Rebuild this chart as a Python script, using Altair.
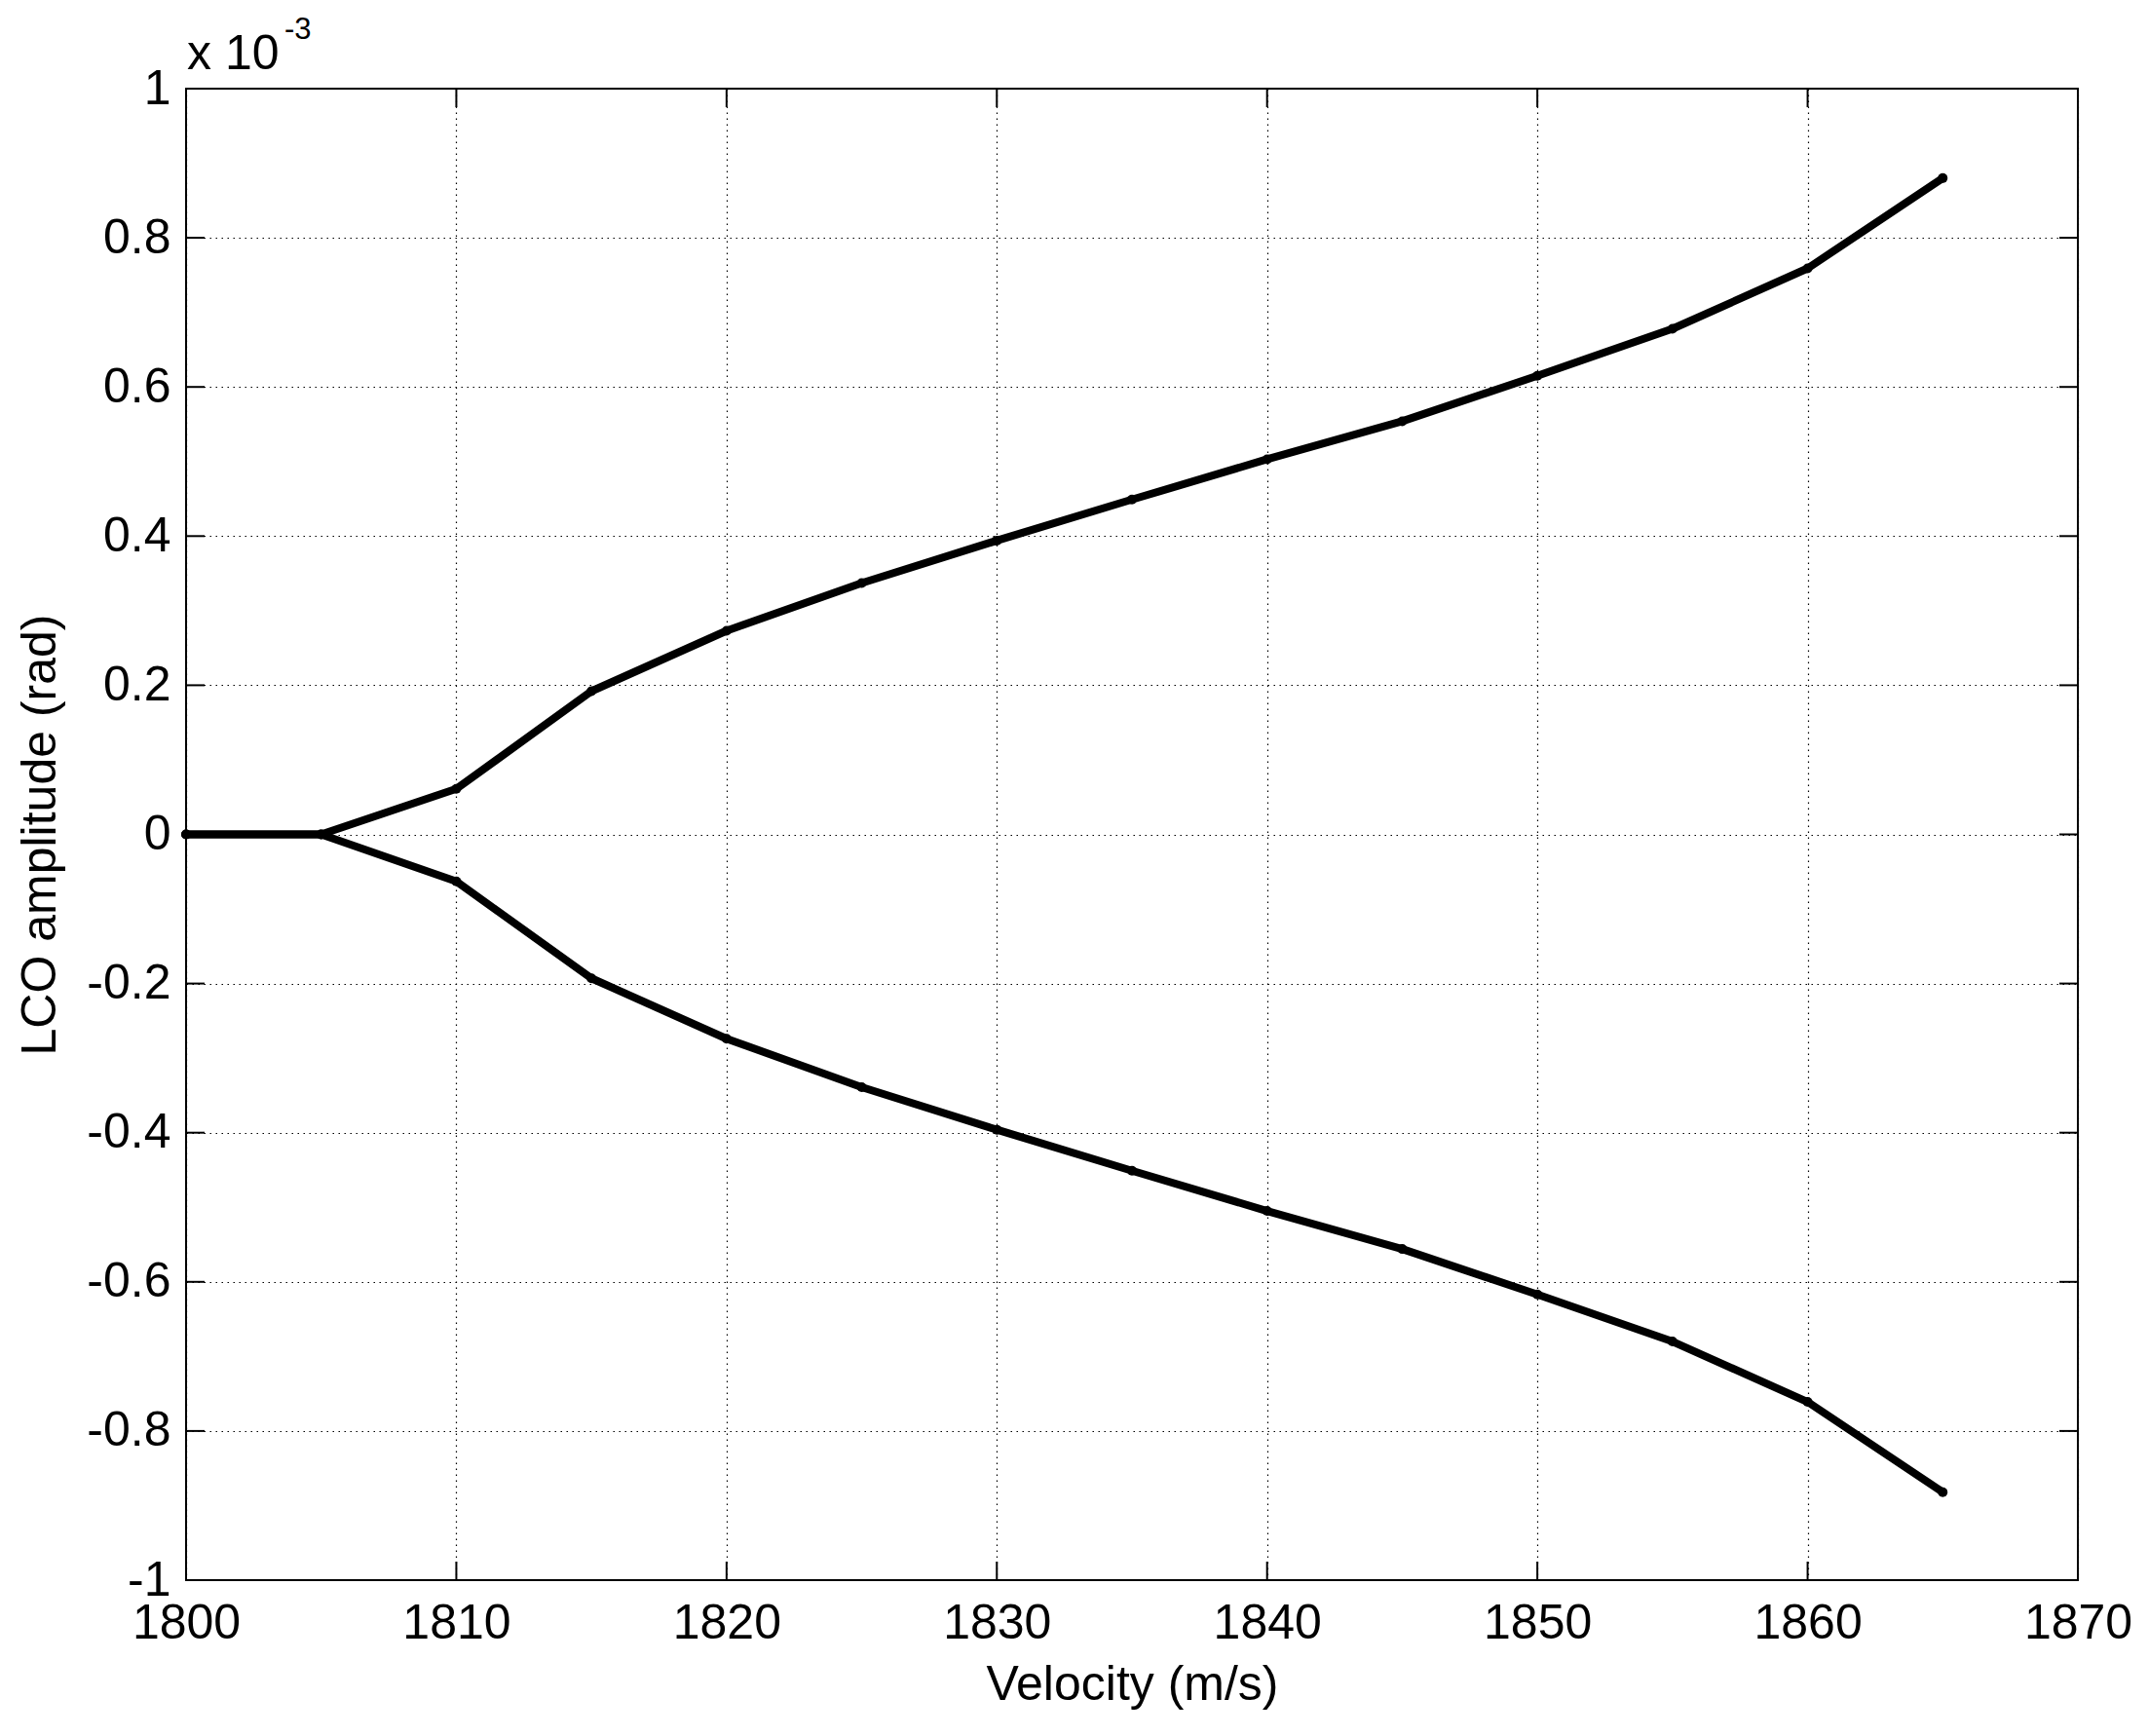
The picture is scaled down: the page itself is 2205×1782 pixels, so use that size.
import altair as alt
import pandas as pd

# Data (amplitude in units of 1e-3 rad)
velocity = [1800, 1805, 1810, 1815, 1820, 1825, 1830, 1835, 1840, 1845, 1850, 1855, 1860, 1865]
upper = [0.0, 0.0, 0.061, 0.192, 0.273, 0.337, 0.394, 0.449, 0.503, 0.554, 0.615, 0.678, 0.759, 0.880]
lower = [0.0, 0.0, -0.063, -0.193, -0.274, -0.339, -0.396, -0.451, -0.505, -0.556, -0.617, -0.680, -0.761, -0.882]
x_ticks = [1800, 1810, 1820, 1830, 1840, 1850, 1860, 1870]
y_ticks = [-1, -0.8, -0.6, -0.4, -0.2, 0, 0.2, 0.4, 0.6, 0.8, 1]

W, H = 1942, 1531
FONT = "Liberation Sans"
FS = 50
TL = 19

df = pd.DataFrame(
    {"v": velocity * 2, "a": upper + lower, "branch": ["upper"] * len(velocity) + ["lower"] * len(velocity)}
)
xt = pd.DataFrame({"v": x_ticks})
yt = pd.DataFrame({"a": y_ticks})

xscale = alt.Scale(domain=[1800, 1870], nice=False, zero=False)
yscale = alt.Scale(domain=[-1, 1], nice=False, zero=False)

xaxis = alt.Axis(
    values=x_ticks, format="d", title="Velocity (m/s)", grid=True, gridDash=[1.5, 4.5],
    gridColor="black", gridWidth=1.2, gridOpacity=1, ticks=False, tickSize=0, domain=False,
    labelFont=FONT, labelFontSize=FS, labelColor="black", labelPadding=19,
    titleFont=FONT, titleFontSize=FS, titleFontWeight="normal", titleColor="black", titlePadding=13,
    labelFlush=False, labelOverlap=False,
)
yaxis = alt.Axis(
    values=y_ticks, labelExpr="'' + datum.value", title="LCO amplitude (rad)", grid=True,
    gridDash=[1.5, 4.5], gridColor="black", gridWidth=1.2, gridOpacity=1, ticks=False, tickSize=0,
    domain=False, labelFont=FONT, labelFontSize=FS, labelColor="black", labelPadding=16,
    titleFont=FONT, titleFontSize=FS, titleFontWeight="normal", titleColor="black", titlePadding=22,
    labelFlush=False, labelOverlap=False,
)

lines = alt.Chart(df).mark_line(color="black", strokeWidth=8, strokeJoin="round", strokeCap="round").encode(
    x=alt.X("v:Q", scale=xscale, axis=xaxis),
    y=alt.Y("a:Q", scale=yscale, axis=yaxis),
    detail="branch:N",
)
points = alt.Chart(df).mark_point(filled=True, color="black", size=100, opacity=1).encode(
    x=alt.X("v:Q", scale=xscale),
    y=alt.Y("a:Q", scale=yscale),
)

tick_style = dict(color="black", strokeWidth=2)
xb = alt.Chart(xt).mark_rule(**tick_style).encode(x=alt.X("v:Q", scale=xscale), y=alt.value(H), y2=alt.value(H - TL))
xtp = alt.Chart(xt).mark_rule(**tick_style).encode(x=alt.X("v:Q", scale=xscale), y=alt.value(0), y2=alt.value(TL))
yl = alt.Chart(yt).mark_rule(**tick_style).encode(y=alt.Y("a:Q", scale=yscale), x=alt.value(0), x2=alt.value(TL))
yr = alt.Chart(yt).mark_rule(**tick_style).encode(y=alt.Y("a:Q", scale=yscale), x=alt.value(W), x2=alt.value(W - TL))

exp_base = alt.Chart(pd.DataFrame({"t": ["x 10"]})).mark_text(
    font=FONT, fontSize=FS, color="black", align="left", baseline="alphabetic"
).encode(text="t:N", x=alt.value(1), y=alt.value(-20))
exp_sup = alt.Chart(pd.DataFrame({"t": ["-3"]})).mark_text(
    font=FONT, fontSize=31, color="black", align="left", baseline="alphabetic"
).encode(text="t:N", x=alt.value(101), y=alt.value(-51))

chart = alt.layer(lines, points, xb, xtp, yl, yr, exp_base, exp_sup).properties(
    width=W, height=H,
    autosize=alt.AutoSizeParams(type="none"),
    padding={"left": 183, "top": 83, "right": 60, "bottom": 150},
    background="white",
).configure_view(stroke="black", strokeWidth=2)

chart.save("out.html", embed_options={"renderer": "svg", "actions": False})
